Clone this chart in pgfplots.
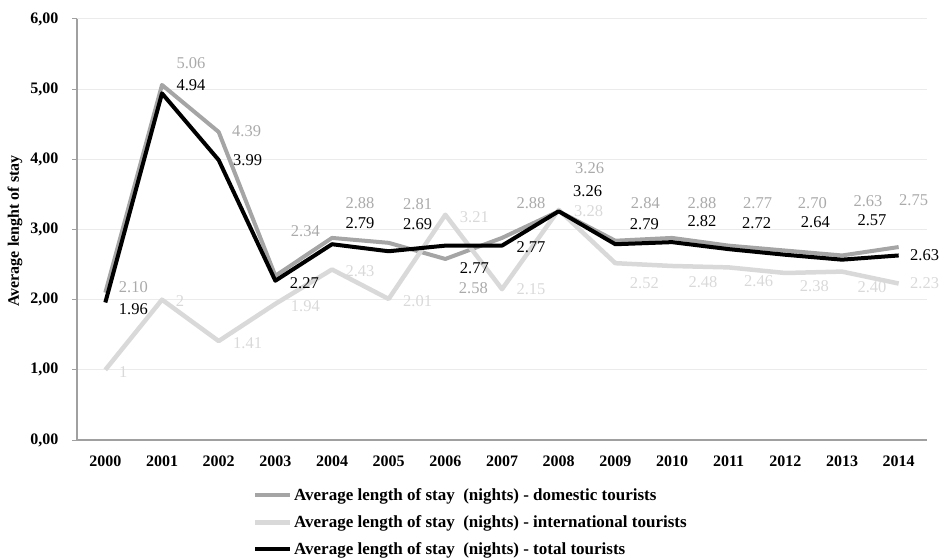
\documentclass[border=0pt]{standalone}
\usepackage{pgfplots}
\pgfplotsset{compat=1.18}
\usepackage{pgfplotstable}
\usepackage{fontspec}
\setmainfont{Liberation Serif}

\definecolor{domgray}{HTML}{A5A5A5}
\definecolor{domlab}{HTML}{AAAAAA}
\definecolor{intgray}{HTML}{D9D9D9}
\definecolor{axisgray}{HTML}{A0A0A0}
\definecolor{gridgray}{HTML}{EBEBEB}

% year index, value, label text, label offsets (pt)
\pgfplotstableread{
x y lab dx dy
0 2.10 2.10 28 6
1 5.06 5.06 29 22
2 4.39 4.39 28 1
3 2.34 2.34 30 45
4 2.88 2.88 28 35
5 2.81 2.81 29 39
6 2.58 2.58 28 -29
7 2.88 2.88 29 35
8 3.26 3.26 31 43
9 2.84 2.84 30 38
10 2.88 2.88 30 35
11 2.77 2.77 29 42
12 2.70 2.70 27 47
13 2.63 2.63 26 54
14 2.75 2.75 15 47
}\domestic

\pgfplotstableread{
x y lab dx dy
0 1 1 18 -2
1 2 2 18 -1
2 1.41 1.41 29 -2
3 1.94 1.94 30 -2
4 2.43 2.43 28 -2
5 2.01 2.01 29 -2
6 3.21 3.21 29 -2
7 2.15 2.15 29 0
8 3.28 3.28 30 -1
9 2.52 2.52 29 -20
10 2.48 2.48 31 -16
11 2.46 2.46 30 -14
12 2.38 2.38 29 -13
13 2.40 2.40 30 -16
14 2.23 2.23 26 0
}\international

\pgfplotstableread{
x y lab dx dy
0 1.96 1.96 28 -7
1 4.94 4.94 29 8
2 3.99 3.99 29 0
3 2.27 2.27 29 -2
4 2.79 2.79 28 21
5 2.69 2.69 29 27
6 2.77 2.77 29 -23
7 2.77 2.77 29 -2
8 3.26 3.26 29 20
9 2.79 2.79 29 20
10 2.82 2.82 30 21
11 2.72 2.72 28 26
12 2.64 2.64 30 33
13 2.57 2.57 30 40
14 2.63 2.63 26 0
}\total

\pgfplotsset{
  vlabels/.style={
    nodes near coords,
    point meta=explicit symbolic,
    visualization depends on={\thisrow{dx} \as \offx},
    visualization depends on={\thisrow{dy} \as \offy},
    every node near coord/.append style={anchor=center, inner sep=0pt,
      xshift=\offx pt, yshift=\offy pt,
      font=\fontsize{16.5}{18}\selectfont, text=#1},
  },
}

\begin{document}
\begin{tikzpicture}
\path[use as bounding box] (0,0) rectangle (941pt,559pt);
\begin{axis}[
  at={(77pt,119pt)}, anchor=south west,
  scale only axis, width=850pt, height=421pt,
  xmin=-0.5, xmax=14.5, ymin=0, ymax=6,
  axis lines*=left,
  axis line style={draw=axisgray, line width=1.2pt},
  xtick={0,...,14},
  xticklabels={2000,2001,2002,2003,2004,2005,2006,2007,2008,2009,2010,2011,2012,2013,2014},
  xtick style={draw=none},
  extra x ticks={-0.5,0.5,1.5,2.5,3.5,4.5,5.5,6.5,7.5,8.5,9.5,10.5,11.5,12.5,13.5,14.5},
  extra x tick labels={},
  extra x tick style={tick style={draw=axisgray, line width=1pt}},
  ytick={0,1,2,3,4,5,6},
  yticklabels={{0,00},{1,00},{2,00},{3,00},{4,00},{5,00},{6,00}},
  ytick style={draw=axisgray, line width=1pt},
  tick align=outside, major tick length=5pt,
  ymajorgrids, grid style={draw=gridgray, line width=1pt},
  ticklabel style={font=\fontsize{16}{18}\selectfont\bfseries},
  xticklabel style={yshift=-7pt},
  yticklabel style={xshift=-10pt},
  ylabel={Average lenght of stay},
  ylabel style={font=\fontsize{16}{18}\selectfont\bfseries,
    at={(axis description cs:-0.0729,0.4964)}, anchor=center},
  clip=false,
  legend image code/.code={\draw[#1] (0pt,0pt) -- (35pt,0pt);},
  legend style={at={(axis description cs:0.207,-0.1116)}, anchor=north west,
    draw=none, fill=none, inner sep=0pt,
    nodes={inner sep=1.5pt},
    font=\fontsize{17}{19}\selectfont\bfseries,
    row sep=10.5pt, column sep=0pt},
  legend cell align=left,
]
\addlegendimage{draw=domgray, line width=4pt}
\addlegendentry{Average length of stay~ (nights) - domestic tourists}
\addlegendimage{draw=intgray, line width=4.5pt}
\addlegendentry{Average length of stay~ (nights) - international tourists}
\addlegendimage{draw=black, line width=4pt}
\addlegendentry{Average length of stay~ (nights) - total tourists}

\addplot[forget plot, draw=domgray, line width=4pt, line join=round, vlabels=domlab]
  table[x=x, y=y, meta=lab] {\domestic};
\addplot[forget plot, draw=intgray, line width=4.5pt, line join=round, vlabels=intgray]
  table[x=x, y=y, meta=lab] {\international};
\addplot[forget plot, draw=black, line width=4pt, line join=round, vlabels=black]
  table[x=x, y=y, meta=lab] {\total};
\end{axis}
\end{tikzpicture}
\end{document}
